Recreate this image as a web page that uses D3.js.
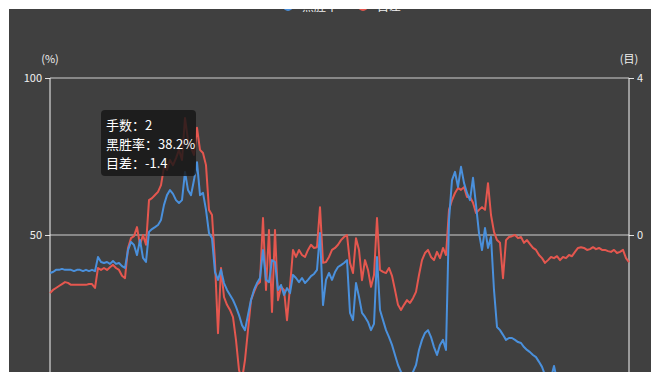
<!DOCTYPE html>
<html><head><meta charset="utf-8">
<script src="https://cdn.jsdelivr.net/npm/d3@7/dist/d3.min.js"></script>
<style>body{margin:0;background:#fff;}svg{display:block;}</style>
</head><body>
<script>
const seriesNames = ["黑胜率", "目差"];
const winRate = [37.9,38.2,38.9,38.9,39.2,38.9,38.9,38.9,38.5,38.9,38.9,38.5,38.9,38.5,38.9,38.5,
43.0,41.4,41.1,41.4,40.8,41.7,40.8,41.1,40.1,39.5,45.2,47.8,46.8,43.6,48.4,42.7,41.4,
51.0,51.9,52.5,53.2,54.8,59.6,62.7,64.3,63.1,61.1,60.2,61.1,70.1,64.3,62.7,67.5,73.2,62.7,63.4,58.0,
50.6,49.0,38.2,35.7,38.9,34.7,32.5,30.9,29.3,27.1,24.5,21.3,19.7,24.5,29.3,32.5,34.7,36.3,
45.2,35.7,35.0,42.0,41.4,32.5,34.1,30.9,33.1,31.5,37.3,36.3,35.0,36.3,34.7,35.7,36.9,37.6,38.9,
50.6,27.7,35.7,37.9,35.7,38.2,39.8,40.4,41.1,42.0,25.2,22.9,34.7,30.3,25.2,23.9,22.3,19.7,21.7,
43.0,26.1,22.9,19.7,17.5,15.0,11.8,8.6,6.4,5.1,4.8,5.1,6.4,8.6,13.4,16.6,18.8,19.7,17.5,14.3,11.8,15.0,16.6,13.4,
54.8,67.5,70.1,65.3,71.7,66.6,63.4,61.1,68.2,59.6,50.6,45.2,52.2,45.9,49.4,32.5,20.7,19.7,18.2,16.6,17.2,17.2,
16.6,15.9,15.6,14.3,13.4,12.7,11.8,11.1,9.6,8.0,5.4,3.8,4.5,8.3,3.8,3.5,3.2,3.0,2.8,2.9,2.6,2.5,2.7,2.4,2.3,
2.5,2.2,2.1,2.3,2.0,2.1,1.9,2.0,1.8,1.9,1.7,1.8,1.6,1.7];
const scoreDiff = [-1.48,-1.40,-1.35,-1.30,-1.25,-1.20,-1.22,-1.27,-1.27,-1.27,-1.27,-1.27,-1.27,-1.25,-1.25,-1.35,
-0.84,-0.89,-0.84,-0.89,-0.82,-0.76,-0.84,-0.89,-1.04,-1.10,-0.33,-0.08,-0.03,0.20,-0.25,0.00,-0.25,
0.89,0.94,1.02,1.10,1.27,1.73,1.66,1.91,1.78,1.96,2.17,1.91,2.98,2.42,2.22,2.04,2.73,2.17,2.09,1.78,
0.64,0.51,-0.69,-2.50,-0.84,-1.58,-1.78,-1.91,-2.09,-2.68,-3.44,-3.69,-3.18,-2.42,-1.66,-1.45,-1.27,-1.20,
0.43,-1.40,0.13,-1.96,0.13,-1.66,-1.32,-1.40,-2.17,-1.32,-0.38,-0.56,-0.38,-0.51,-0.56,-0.38,-0.25,-0.33,-0.31,
0.71,-0.71,-0.69,-0.56,-0.38,-0.33,-0.25,-0.13,-0.05,0.00,-0.71,-0.97,-0.08,-0.38,-1.15,-0.64,-0.89,-1.32,-1.02,
0.43,-0.89,-0.94,-0.97,-0.84,-1.04,-1.40,-1.78,-1.91,-1.78,-1.66,-1.73,-1.61,-1.45,-1.02,-0.64,-0.46,-0.38,-0.56,-0.64,-0.43,-0.59,-0.33,-0.51,
0.64,0.89,1.07,1.20,1.15,1.22,0.97,0.97,0.82,0.56,0.64,0.71,0.64,1.32,0.51,0.08,-0.13,-0.20,-1.10,-0.13,-0.05,-0.03,
0.00,-0.08,-0.05,-0.20,-0.13,-0.23,-0.33,-0.38,-0.51,-0.59,-0.71,-0.64,-0.56,-0.59,-0.54,-0.64,-0.56,-0.59,-0.51,-0.54,-0.43,
-0.33,-0.31,-0.33,-0.38,-0.36,-0.31,-0.36,-0.33,-0.38,-0.38,-0.41,-0.43,-0.38,-0.46,-0.43,-0.38,-0.59,-0.69];
const moves = d3.range(1, winRate.length + 1);
const leftTicks = [50, 100];
const rightTicks = [0, 4];
const tipMove = 2;

const W = 660, H = 382;
const bg = "#404040", blue = "#4a90dc", red = "#e5574f", txt = "#f0f0f0";
const svg = d3.select("body").append("svg").attr("width", W).attr("height", H);
svg.append("rect").attr("width", W).attr("height", H).attr("fill", "#fff");
svg.append("rect").attr("x", 9).attr("y", 9).attr("width", 642).attr("height", 363).attr("fill", bg);
svg.append("clipPath").attr("id", "clip").append("rect").attr("x", 9).attr("y", 9).attr("width", 642).attr("height", 363);

const x = d3.scaleLinear().domain([1, moves.length]).range([50, 629]);
const yL = d3.scaleLinear().domain([0, 100]).range([392, 78]);
const yR = d3.scaleLinear().domain([-4, 4]).range([392, 78]);

const g = svg.append("g").attr("clip-path", "url(#clip)");
const font = "'Noto Sans CJK SC','Noto Sans',sans-serif";

// gridlines
g.selectAll(".grid").data(leftTicks).join("line")
  .attr("x1", 50).attr("x2", 629).attr("y1", d => yL(d)).attr("y2", d => yL(d))
  .attr("stroke", "#d0d0d0").attr("stroke-width", 1);

// axes
const axL = d3.axisLeft(yL).tickValues(leftTicks).tickSize(5).tickPadding(3);
const axR = d3.axisRight(yR).tickValues(rightTicks).tickSize(5).tickPadding(3);
const gl = g.append("g").attr("transform", "translate(50,0)").call(axL);
const gr = g.append("g").attr("transform", "translate(629,0)").call(axR);
[gl, gr].forEach(a => {
  a.select(".domain").attr("stroke", "#f5f5f5").attr("d", null);
  a.selectAll(".tick line").attr("stroke", "#e0e0e0");
  a.selectAll(".tick text").attr("fill", txt).attr("font-size", 11).attr("font-family", font);
});
g.append("line").attr("x1", 50).attr("x2", 50).attr("y1", 78).attr("y2", 392).attr("stroke", "#f5f5f5");
g.append("line").attr("x1", 629).attr("x2", 629).attr("y1", 78).attr("y2", 392).attr("stroke", "#f5f5f5");

g.append("text").attr("x", 50).attr("y", 63).attr("text-anchor", "middle").attr("fill", txt)
  .attr("font-size", 11).attr("font-family", font).text("(%)");
g.append("text").attr("x", 629).attr("y", 63).attr("text-anchor", "middle").attr("fill", txt)
  .attr("font-size", 11).attr("font-family", font).text("(目)");

// lines
const lineL = d3.line().x((d, i) => x(moves[i])).y(d => yL(d));
const lineR = d3.line().x((d, i) => x(moves[i])).y(d => yR(d));
g.append("path").datum(scoreDiff).attr("d", lineR).attr("fill", "none")
  .attr("stroke", red).attr("stroke-width", 2).attr("stroke-linejoin", "round");
g.append("path").datum(winRate).attr("d", lineL).attr("fill", "none")
  .attr("stroke", blue).attr("stroke-width", 2).attr("stroke-linejoin", "round");

// legend
const leg = g.append("g");
[[288, blue], [363, red]].forEach((p, i) => {
  leg.append("circle").attr("cx", p[0]).attr("cy", 6).attr("r", 5).attr("fill", p[1]);
  leg.append("text").attr("x", p[0] + 14).attr("y", 11).attr("fill", txt)
    .attr("font-size", 12).attr("font-family", font).text(seriesNames[i]);
});

// tooltip
const ti = moves.indexOf(tipMove);
const tip = svg.append("g");
tip.append("rect").attr("x", 101).attr("y", 110).attr("width", 95).attr("height", 66).attr("rx", 4)
  .attr("fill", "rgba(22,22,22,0.82)");
const lines = ["手数：" + tipMove, "黑胜率：" + winRate[ti].toFixed(1) + "%", "目差：" + scoreDiff[ti].toFixed(1)];
tip.selectAll("text.t").data(lines).join("text").attr("class", "t")
  .attr("x", 106).attr("y", (d, i) => 130 + i * 19).attr("fill", "#fff")
  .attr("font-size", 13).attr("font-family", font).text(d => d);
</script>
</body></html>
